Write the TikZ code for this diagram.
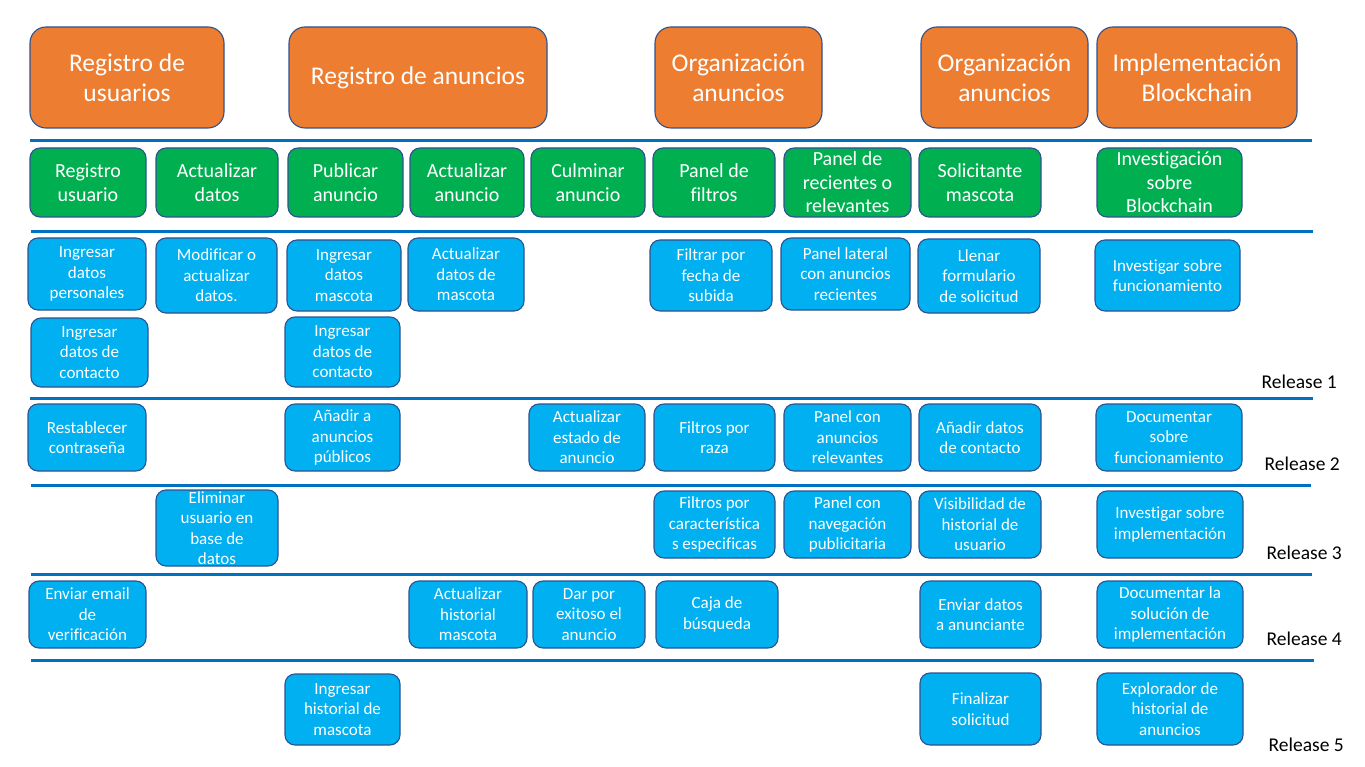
\documentclass[tikz,border=0pt]{standalone}
\usepackage{fontspec}
\setmainfont{Carlito}[Ligatures=NoCommon]
\definecolor{epicorange}{HTML}{ED7D31}
\definecolor{featgreen}{HTML}{00B050}
\definecolor{taskblue}{HTML}{00B0F0}
\definecolor{edgeblue}{HTML}{2F528F}
\definecolor{rulecol}{HTML}{0070C0}
\tikzset{
  cardbase/.style={draw=edgeblue, line width=1.1pt, text=white, align=center, inner sep=0pt},
  epic/.style={cardbase, fill=epicorange, rounded corners=16pt, font=\fontsize{25.5}{30}\selectfont},
  feature/.style={cardbase, fill=featgreen, rounded corners=10pt, font=\fontsize{20}{23.5}\selectfont},
  task/.style={cardbase, fill=taskblue, rounded corners=10pt, font=\fontsize{17}{20.5}\selectfont},
  relabel/.style={font=\fontsize{19.5}{22}\selectfont, text=black, anchor=base east, inner sep=0pt},
  sep/.style={draw=rulecol, line width=3pt}
}
% card given by its corners (x1,y1) and (x2,y2), y growing downwards
\newcommand\card[7]{\node[#1, minimum width={#5-#3}, minimum height={#6-#4}] (#2) at ({(#3+#5)/2},{(#4+#6)/2}) {#7};}
\begin{document}
\begin{tikzpicture}[x=1pt, y=-1pt]
\fill[white] (0,0) rectangle (1365,767);
\useasboundingbox (0,0) rectangle (1365,767);

% epics
\card{epic}{e1}{30}{27}{224}{128}{Registro de\\usuarios}
\card{epic}{e2}{289}{27}{547}{128}{Registro de anuncios}
\card{epic}{e3}{655}{27}{822}{128}{Organización\\anuncios}
\card{epic}{e4}{921}{27}{1088}{128}{Organización\\anuncios}
\card{epic}{e5}{1097}{27}{1297}{128}{Implementación\\Blockchain}

% separators
\coordinate (s1a) at (30,141);  \coordinate (s1b) at (1312,141);
\coordinate (s2a) at (31,232);  \coordinate (s2b) at (1313,232);
\coordinate (s3a) at (30,398);  \coordinate (s3b) at (1313,398);
\coordinate (s4a) at (31,485);  \coordinate (s4b) at (1311,485);
\coordinate (s5a) at (31,574);  \coordinate (s5b) at (1312,574);
\coordinate (s6a) at (31,660);  \coordinate (s6b) at (1314,660);
\foreach \s in {1,...,6} \draw[sep] (s\s a) -- (s\s b);

% features
\card{feature}{f1}{30}{148}{146}{217}{Registro\\usuario}
\card{feature}{f2}{156}{148}{278}{217}{Actualizar\\datos}
\card{feature}{f3}{288}{148}{403}{217}{Publicar\\anuncio}
\card{feature}{f4}{410}{148}{524}{217}{Actualizar\\anuncio}
\card{feature}{f5}{531}{148}{645}{217}{Culminar\\anuncio}
\card{feature}{f6}{653}{148}{775}{217}{Panel de\\filtros}
\card{feature}{f7}{784}{148}{911}{217}{Panel de\\recientes o\\relevantes}
\card{feature}{f8}{919}{148}{1041}{217}{Solicitante\\mascota}
\card{feature}{f9}{1097}{148}{1242}{217}{Investigación\\sobre\\Blockchain}

% release 1
\card{task}{t11}{28}{238}{146}{310}{Ingresar\\datos\\personales}
\card{task}{t12}{156}{238}{277}{313}{Modificar o\\actualizar\\datos.}
\card{task}{t13}{287}{240}{401}{311}{Ingresar\\datos\\mascota}
\card{task}{t14}{408}{238}{524}{311}{Actualizar\\datos de\\mascota}
\card{task}{t15}{650}{240}{772}{311}{Filtrar por\\fecha de\\subida}
\card{task}{t16}{781}{238}{910}{310}{Panel lateral\\con anuncios\\recientes}
\card{task}{t17}{918}{239}{1040}{313}{Llenar\\formulario\\de solicitud}
\card{task}{t18}{1095}{240}{1240}{311}{Investigar sobre\\funcionamiento}
\card{task}{t19}{31}{318}{148}{387}{Ingresar\\datos de\\contacto}
\card{task}{t110}{285}{317}{400}{387}{Ingresar\\datos de\\contacto}
\node[relabel] (r1) at (1337,388) {Release 1};

% release 2
\card{task}{t21}{28}{404}{146}{471}{Restablecer\\contraseña}
\card{task}{t22}{285}{404}{400}{471}{Añadir a\\anuncios\\públicos}
\card{task}{t23}{529}{404}{645}{471}{Actualizar\\estado de\\anuncio}
\card{task}{t24}{654}{404}{775}{471}{Filtros por\\raza}
\card{task}{t25}{784}{404}{911}{471}{Panel con\\anuncios\\relevantes}
\card{task}{t26}{919}{404}{1041}{471}{Añadir datos\\de contacto}
\card{task}{t27}{1096}{404}{1242}{471}{Documentar\\sobre\\funcionamiento}
\node[relabel] (r2) at (1340,470) {Release 2};

% release 3
\card{task}{t31}{156}{490}{278}{566}{Eliminar\\usuario en\\base de\\datos}
\card{task}{t32}{654}{491}{775}{558}{Filtros por\\característica\\s especificas}
\card{task}{t33}{784}{491}{911}{558}{Panel con\\navegación\\publicitaria}
\card{task}{t34}{919}{491}{1041}{558}{Visibilidad de\\historial de\\usuario}
\card{task}{t35}{1097}{491}{1243}{558}{Investigar sobre\\implementación}
\node[relabel] (r3) at (1342,559) {Release 3};

% release 4
\card{task}{t41}{29}{581}{146}{648}{Enviar email\\de\\verificación}
\card{task}{t42}{409}{581}{527}{648}{Actualizar\\historial\\mascota}
\card{task}{t43}{533}{581}{645}{648}{Dar por\\exitoso el\\anuncio}
\card{task}{t44}{656}{581}{778}{648}{Caja de\\búsqueda}
\card{task}{t45}{920}{581}{1041}{648}{Enviar datos\\a anunciante}
\card{task}{t46}{1097}{581}{1243}{648}{Documentar la\\solución de\\implementación}
\node[relabel] (r4) at (1342,645) {Release 4};

% release 5
\card{task}{t51}{285}{674}{400}{745}{Ingresar\\historial de\\mascota}
\card{task}{t52}{920}{673}{1041}{745}{Finalizar\\solicitud}
\card{task}{t53}{1097}{673}{1243}{745}{Explorador de\\historial de\\anuncios}
\node[relabel] (r5) at (1344,751) {Release 5};
\end{tikzpicture}
\end{document}
